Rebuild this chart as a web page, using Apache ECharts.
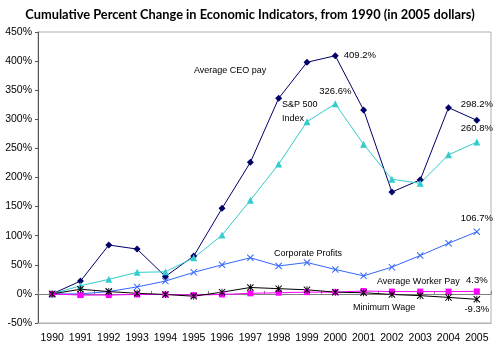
<!DOCTYPE html>
<html><head><meta charset="utf-8">
<script src="https://cdn.jsdelivr.net/npm/echarts@6/dist/echarts.min.js"></script>
<style>html,body{margin:0;padding:0;background:#fff}#c{width:500px;height:351px}</style>
</head><body><div id="c"></div>
<script>
const years = ['1990','1991','1992','1993','1994','1995','1996','1997','1998','1999','2000','2001','2002','2003','2004','2005'];
const ceoPay     = [0, 22, 84, 77, 30, 65, 147, 226, 336, 398, 409.2, 316, 175, 196, 320, 298.2];
const sp500      = [0, 14, 25, 37, 38, 62, 101, 161, 223, 296, 326.6, 257, 197, 190, 239, 260.8];
const profits    = [0, 0, 4, 12, 22, 37, 50, 62, 48, 54, 42, 31, 46, 66, 87, 106.7];
const workerPay  = [0, -2, -2, -1, -1, -2, -1, 1, 2, 3, 3, 5, 4, 4, 4, 4.3];
const minWage    = [0, 8, 4, 1, -1, -4, 3, 11, 9, 7, 3, 2, -1, -3, -6, -9.3];

const FONT = 'Liberation Sans, Arial, sans-serif';
const xPath = 'path://M0,1 L1,0 L5,4 L9,0 L10,1 L6,5 L10,9 L9,10 L5,6 L1,10 L0,9 L4,5 Z';
const starPath = 'path://M0,1 L1,0 L5,4 L9,0 L10,1 L6,5 L10,9 L9,10 L5,6 L1,10 L0,9 L4,5 Z M4.4,0 L5.6,0 L5.6,10 L4.4,10 Z';

function withLabels(arr, labelMap) {
  return arr.map((v, i) => labelMap[i] ? {value: v, label: Object.assign({show: true, formatter: v.toFixed(1) + '%', color: '#000', fontSize: 9.5, fontFamily: FONT}, labelMap[i])} : v);
}

const chart = echarts.init(document.getElementById('c'));
chart.setOption({
  animation: false,
  backgroundColor: '#fff',
  title: {text: 'Cumulative Percent Change in Economic Indicators, from 1990 (in 2005 dollars)', left: 'center', top: 3,
    textStyle: {fontSize: 12.8, fontWeight: 'bold', fontFamily: 'Lato, sans-serif', color: '#000'}},
  grid: {left: 38, top: 32, right: 9, bottom: 28, show: true, borderColor: '#b0b0b0', borderWidth: 1},
  xAxis: [
    {type: 'category', data: years, boundaryGap: true, position: 'bottom',
     axisLine: {onZero: false, lineStyle: {color: '#b0b0b0'}}, axisTick: {show: false},
     axisLabel: {color: '#000', fontSize: 10.5, fontFamily: FONT, margin: 10, interval: 0}},
    {type: 'category', data: years, boundaryGap: true, position: 'bottom',
     axisLine: {onZero: true, lineStyle: {color: '#808080'}}, axisTick: {show: true, inside: true, length: 3, lineStyle: {color: '#808080'}},
     axisLabel: {show: false}}
  ],
  yAxis: {type: 'value', min: -50, max: 450, interval: 50, splitLine: {show: false},
    axisLine: {show: true, onZero: false, lineStyle: {color: '#555'}}, axisTick: {show: true, length: 3, lineStyle: {color: '#555'}},
    axisLabel: {color: '#000', fontSize: 10.5, fontFamily: FONT, margin: 6, formatter: v => v + '%'}},
  series: [
    {name: 'Average CEO pay', type: 'line', data: withLabels(ceoPay, {10: {position: 'right', distance: 5}, 15: {position: 'top', distance: 7}}),
     color: '#000066', lineStyle: {width: 1}, symbol: 'diamond', symbolSize: 7},
    {name: 'S&P 500 Index', type: 'line', data: withLabels(sp500, {10: {position: 'top', distance: 4}, 15: {position: 'top', distance: 5}}),
     color: '#33CCCC', lineStyle: {width: 1}, symbol: 'triangle', symbolSize: 7},
    {name: 'Corporate Profits', type: 'line', data: withLabels(profits, {15: {position: 'top', distance: 5}}),
     color: '#3366FF', lineStyle: {width: 1}, symbol: xPath, symbolSize: 7},
    {name: 'Average Worker Pay', type: 'line', data: withLabels(workerPay, {15: {position: 'top', distance: 3}}),
     color: '#FF00FF', lineStyle: {width: 1}, symbol: 'rect', symbolSize: 6},
    {name: 'Minimum Wage', type: 'line', data: withLabels(minWage, {15: {position: 'bottom', distance: 2}}),
     color: '#000000', lineStyle: {width: 1}, symbol: starPath, symbolSize: 7}
  ],
  graphic: [
    {type: 'text', left: 194, top: 66, style: {text: 'Average CEO pay', fill: '#000', font: '9px ' + FONT}},
    {type: 'text', left: 282, top: 98, style: {text: 'S&P 500\nIndex', fill: '#000', font: '9px ' + FONT, lineHeight: 14}},
    {type: 'text', left: 274, top: 249, style: {text: 'Corporate Profits', fill: '#000', font: '9px ' + FONT}},
    {type: 'text', left: 377, top: 277, style: {text: 'Average Worker Pay', fill: '#000', font: '9px ' + FONT}},
    {type: 'text', left: 353, top: 303, style: {text: 'Minimum Wage', fill: '#000', font: '9px ' + FONT}}
  ]
});
</script></body></html>
